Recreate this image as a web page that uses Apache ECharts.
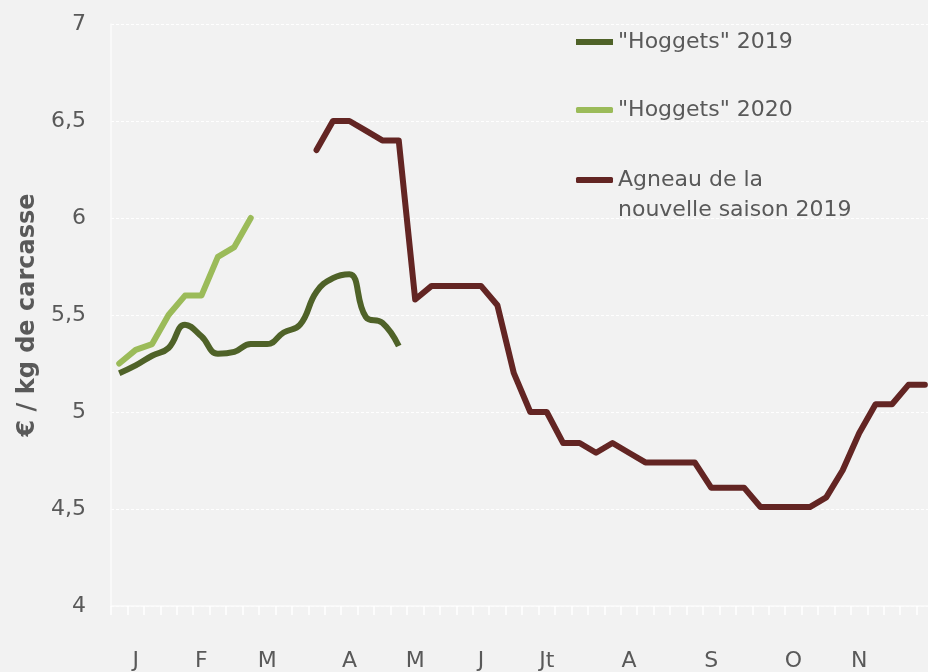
<!DOCTYPE html>
<html>
<head>
<meta charset="utf-8">
<script src="https://cdn.jsdelivr.net/npm/echarts@6/dist/echarts.min.js"></script>
<style>
html,body{margin:0;padding:0;background:#f2f2f2;}
#chart{width:928px;height:672px;}
</style>
</head>
<body>
<div id="chart"></div>
<script>
// Weekly categories (52 weeks)
const weekCount = 52;
const weeks = Array.from({length: weekCount}, (_, i) => 'S' + (i + 1));
// Month tick labels and the week index where each is printed
const monthNames = ['J', 'F', 'M', 'A', 'M', 'J', 'Jt', 'A', 'S', 'O', 'N', 'D'];
const monthWeekIndex = [1, 5, 9, 14, 18, 22, 26, 31, 36, 41, 45, 50];
// Y axis
const yMin = 4, yMax = 7, yStep = 0.5;

// Series values (€/kg carcasse), weekly
const seriesNames = ['"Hoggets" 2019', '"Hoggets" 2020', 'Agneau de la nouvelle saison 2019'];
const hoggets2019Start = 0;
const hoggets2019 = [5.20, 5.24, 5.29, 5.33, 5.45, 5.39, 5.30, 5.31, 5.35, 5.35, 5.41, 5.45, 5.62, 5.69, 5.71, 5.49, 5.46, 5.34];
const hoggets2020Start = 0;
const hoggets2020 = [5.25, 5.32, 5.35, 5.50, 5.60, 5.60, 5.80, 5.85, 6.00];
const agneau2019Start = 12;
const agneau2019 = [6.35, 6.50, 6.50, 6.45, 6.40, 6.40, 5.58, 5.65, 5.65, 5.65, 5.65, 5.55,
                    5.20, 5.00, 5.00, 4.84, 4.84, 4.79, 4.84, 4.79, 4.74, 4.74, 4.74, 4.74,
                    4.61, 4.61, 4.61, 4.51, 4.51, 4.51, 4.51, 4.56, 4.70, 4.89, 5.04, 5.04,
                    5.14, 5.14];

function toPairs(start, values) {
  return values.map((v, i) => [start + i, v]);
}
const monthLabelByWeek = {};
monthWeekIndex.forEach((w, k) => { monthLabelByWeek[w] = monthNames[k]; });

const FONT = 'DejaVu Sans';
const TXT = '#595959';

const chart = echarts.init(document.getElementById('chart'), null, {renderer: 'canvas'});

function legendCfg(name, top, icon) {
  return {
    data: [{name: name, icon: icon}],
    left: 576,
    top: top,
    padding: 0,
    itemWidth: 37,
    itemHeight: 6,
    selectedMode: false,
    formatter: function (n) {
      if (n === seriesNames[2]) return '\nAgneau de la\nnouvelle saison 2019';
      return n;
    },
    textStyle: {color: TXT, fontFamily: FONT, fontSize: 22, lineHeight: 30}
  };
}

chart.setOption({
  backgroundColor: '#f2f2f2',
  animation: false,
  grid: {left: 111, top: 24, width: 855, height: 582, containLabel: false, outerBoundsMode: 'none'},
  legend: [
    legendCfg(seriesNames[0], 27, 'rect'),
    legendCfg(seriesNames[1], 95, 'roundRect'),
    legendCfg(seriesNames[2], 135, 'roundRect')
  ],
  xAxis: {
    type: 'category',
    data: weeks,
    boundaryGap: true,
    axisLine: {show: true, lineStyle: {color: '#fbfbfb', width: 1.5}},
    axisTick: {show: true, interval: 0, length: 9, lineStyle: {color: '#ffffff', width: 1.5}},
    axisLabel: {
      interval: 0,
      margin: 44,
      color: TXT,
      fontFamily: FONT,
      fontSize: 22,
      formatter: function (v, idx) { return monthLabelByWeek[idx] || ''; }
    },
    splitLine: {show: false}
  },
  yAxis: {
    type: 'value',
    min: yMin,
    max: yMax,
    interval: yStep,
    name: '€ / kg de carcasse',
    nameLocation: 'middle',
    nameGap: 71,
    nameTextStyle: {color: TXT, fontFamily: FONT, fontSize: 24, fontWeight: 'bold'},
    axisLine: {show: true, lineStyle: {color: '#fbfbfb', width: 1.5}},
    axisTick: {show: false},
    axisLabel: {
      margin: 25,
      color: TXT,
      fontFamily: FONT,
      fontSize: 22,
      formatter: function (v) { return String(v).replace('.', ','); }
    },
    splitLine: {show: true, lineStyle: {color: '#ffffff', width: 1, type: [3, 2]}}
  },
  series: [
    {
      name: seriesNames[0],
      type: 'line',
      data: toPairs(hoggets2019Start, hoggets2019),
      smooth: 0.45,
      showSymbol: false,
      symbol: 'none',
      lineStyle: {color: '#4f6228', width: 6, cap: 'butt', join: 'round'},
      itemStyle: {color: '#4f6228'},
      z: 3
    },
    {
      name: seriesNames[1],
      type: 'line',
      data: toPairs(hoggets2020Start, hoggets2020),
      showSymbol: false,
      symbol: 'none',
      lineStyle: {color: '#9bbb59', width: 6, cap: 'round', join: 'round'},
      itemStyle: {color: '#9bbb59'},
      z: 2
    },
    {
      name: seriesNames[2],
      type: 'line',
      data: toPairs(agneau2019Start, agneau2019),
      showSymbol: false,
      symbol: 'none',
      lineStyle: {color: '#632523', width: 6, cap: 'round', join: 'round'},
      itemStyle: {color: '#632523'},
      z: 4
    }
  ]
});
</script>
</body>
</html>
